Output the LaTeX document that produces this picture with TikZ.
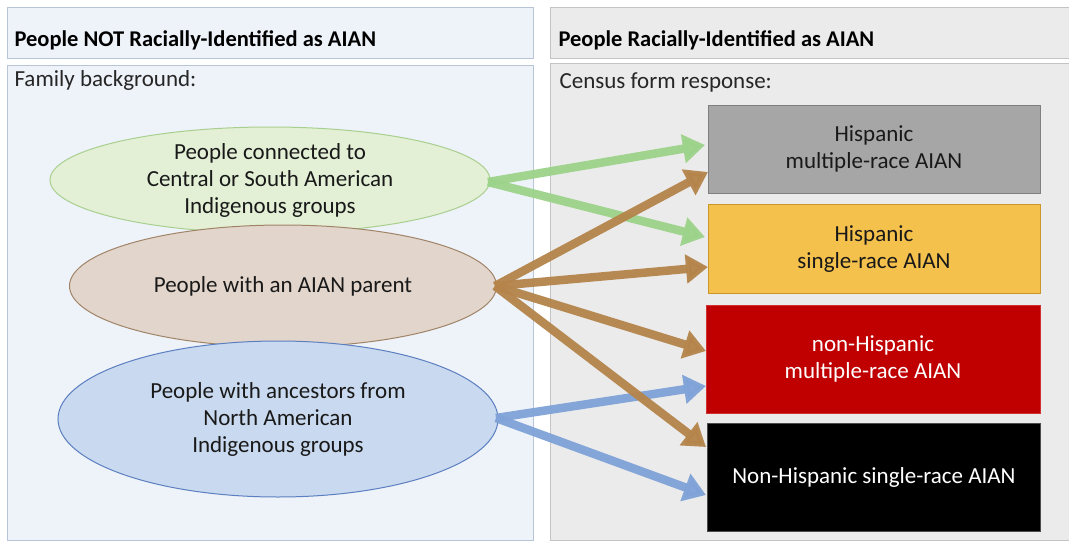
\documentclass[tikz,border=0pt]{standalone}
\usepackage{fontspec}
\setmainfont{Carlito}
\usetikzlibrary{shapes.geometric,arrows.meta}
\definecolor{leftfill}{HTML}{EEF2F9}
\definecolor{leftdraw}{HTML}{B8C4D8}
\definecolor{rightfill}{HTML}{EBEBEB}
\definecolor{rightdraw}{HTML}{C4C4C4}
\definecolor{greenfill}{HTML}{E3F0D6}
\definecolor{greendraw}{HTML}{A9CF8F}
\definecolor{brownfill}{HTML}{E2D5CB}
\definecolor{browndraw}{HTML}{A08468}
\definecolor{bluefill}{HTML}{C9D9EF}
\definecolor{bluedraw}{HTML}{5B7FC0}
\definecolor{greenarrow}{HTML}{9CD38A}
\definecolor{brownarrow}{HTML}{B5844A}
\definecolor{bluearrow}{HTML}{7FA2D8}
\definecolor{grayfill}{HTML}{A6A6A6}
\definecolor{graydraw}{HTML}{7F7F7F}
\definecolor{yellowfill}{HTML}{F4C14C}
\definecolor{yellowdraw}{HTML}{C8962A}
\definecolor{redfill}{HTML}{C00000}
\definecolor{reddraw}{HTML}{D03030}
\tikzset{
  headtext/.style={anchor=west, font=\fontsize{22.5}{26}\selectfont\bfseries},
  subtext/.style={anchor=west, font=\fontsize{23}{27}\selectfont, text=black!85},
  oval/.style={ellipse, inner sep=0pt, line width=1pt, align=center,
    font=\fontsize{23}{27}\selectfont, text=black!90},
  catbox/.style={rectangle, inner sep=0pt, line width=1pt, align=center,
    font=\fontsize{23}{27}\selectfont},
  flow/.style={line width=8.5pt, -{Triangle[length=22pt,width=28pt]}, opacity=0.95},
}
\begin{document}
\begin{tikzpicture}[x=1pt,y=-1pt]
\useasboundingbox (0,0) rectangle (1069,541);
\fill[white] (0,0) rectangle (1069,541);
% panels
\draw[fill=leftfill, draw=leftdraw] (7,7) rectangle (533,58);
\draw[fill=leftfill, draw=leftdraw] (7,65) rectangle (533,540);
\draw[fill=rightfill, draw=rightdraw] (550,7) rectangle (1069,58);
\draw[fill=rightfill, draw=rightdraw] (550,63) rectangle (1069,540);
\node[headtext] (h1) at (11,40) {People NOT Racially-Identified as AIAN};
\node[headtext] (h2) at (555,40) {People Racially-Identified as AIAN};
\node[subtext] (s1) at (11,80) {Family background:};
\node[subtext] (s2) at (556,82) {Census form response:};
% ellipses
\node[oval, fill=greenfill, draw=greendraw, minimum width=440pt, minimum height=106pt] (g) at (270,180)
  {People connected to\\Central or South American\\Indigenous groups};
\node[oval, fill=brownfill, draw=browndraw, minimum width=427pt, minimum height=122pt] (b) at (283,286)
  {People with an AIAN parent};
\node[oval, fill=bluefill, draw=bluedraw, minimum width=440pt, minimum height=156pt] (u) at (278,419)
  {People with ancestors from\\North American\\Indigenous groups};
% boxes
\node[catbox, fill=grayfill, draw=graydraw, minimum width=332pt, minimum height=88pt, text=black!90] (c1) at (874,149)
  {Hispanic\\multiple-race AIAN};
\node[catbox, fill=yellowfill, draw=yellowdraw, minimum width=332pt, minimum height=89pt, text=black!90] (c2) at (874,249)
  {Hispanic\\single-race AIAN};
\node[catbox, fill=redfill, draw=reddraw, minimum width=334pt, minimum height=108pt, text=white] (c3) at (873,359)
  {non-Hispanic\\multiple-race AIAN};
\node[catbox, fill=black, draw=black!70, minimum width=333pt, minimum height=108pt, text=white] (c4) at (874,477)
  {Non-Hispanic single-race AIAN};
% arrow ends
\coordinate (gt1) at (705,145);
\coordinate (gt2) at (705,237);
\coordinate (bt1) at (708,172);
\coordinate (bt2) at (708,267);
\coordinate (bt3) at (706,351);
\coordinate (bt4) at (706,447);
\coordinate (ut1) at (706,386);
\coordinate (ut2) at (706,495);
\coordinate (go) at (488,182);
\coordinate (bo) at (495,286);
\coordinate (uo) at (496,418);
\draw[flow, greenarrow] (go) -- (gt1);
\draw[flow, greenarrow] (go) -- (gt2);
\draw[flow, bluearrow] (uo) -- (ut1);
\draw[flow, bluearrow] (uo) -- (ut2);
\draw[flow, brownarrow] (bo) -- (bt1);
\draw[flow, brownarrow] (bo) -- (bt2);
\draw[flow, brownarrow] (bo) -- (bt3);
\draw[flow, brownarrow] (bo) -- (bt4);
\end{tikzpicture}
\end{document}
